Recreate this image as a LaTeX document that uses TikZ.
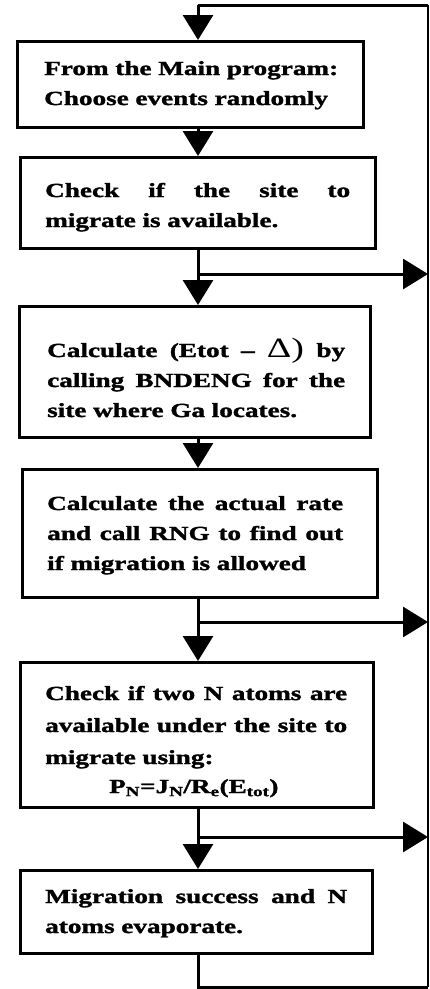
\documentclass[tikz,border=0pt]{standalone}
\usepackage{fontspec}
\newfontfamily\boxfont{Liberation Serif}[FakeStretch=1.36, BoldFeatures={FakeStretch=1.36, FakeBold=1.6}]
\usetikzlibrary{arrows.meta}
\newcommand{\jl}[2]{\makebox[#1][s]{\spaceskip=0pt\xspaceskip=0pt\relax #2}}
\begin{document}
\begin{tikzpicture}[x=1pt,y=-1pt,
 box/.style={draw, line width=3pt, rectangle, inner sep=0pt, anchor=north west},
 txt/.style={anchor=base west, inner sep=0pt, text width=320pt,
   font=\boxfont\bfseries\fontsize{20}{30}\selectfont},
 conn/.style={line width=3pt},
 thinline/.style={line width=2pt},
 arr/.style={line width=3pt, -{Triangle[width=30pt,length=25pt]}},
]
\useasboundingbox (0,0) rectangle (430,989);
% boxes
\node[box, minimum width=346pt, minimum height=86pt] (b1) at (16,40) {};
\node[box, minimum width=355pt, minimum height=91pt] (b2) at (19,156) {};
\node[box, minimum width=351pt, minimum height=131pt] (b3) at (18,305) {};
\node[box, minimum width=355pt, minimum height=128pt] (b4) at (21,468) {};
\node[box, minimum width=353pt, minimum height=145pt] (b5) at (19,661) {};
\node[box, minimum width=352pt, minimum height=83pt] (b6) at (19,869) {};
% texts
\node[txt] (t1) at (44,75) {From the Main program:\\Choose events randomly};
\node[txt] (t2) at (45,197) {\jl{305pt}{Check if the site to}\\migrate is available.};
\node[txt] (t3) at (47,357) {\jl{298pt}{Calculate (Etot – {\mdseries\fontsize{28}{30}\selectfont Δ)} by}\\\jl{298pt}{calling BNDENG for the}\\site where Ga locates.};
\node[txt] (t4) at (47,510) {\jl{296pt}{Calculate the actual rate}\\\jl{296pt}{and call RNG to find out}\\if migration is allowed};
\node[txt] (t5) at (45,700) {\jl{302pt}{Check if two N atoms are}\\[2pt]\jl{302pt}{available under the site to}\\[2pt]migrate using:\\[-1pt]\hspace*{64pt}P\textsubscript{N}=J\textsubscript{N}/R\textsubscript{e}(E\textsubscript{tot})};
\node[txt] (t6) at (45,903) {\jl{302pt}{Migration success and N}\\atoms evaporate.};
% coordinates
\coordinate (ax) at (198,0);
\coordinate (tl) at (198,5);
\coordinate (tr) at (428,5);
\coordinate (bl) at (198,987);
\coordinate (br) at (428,987);
\coordinate (j1) at (198,274);
\coordinate (e1) at (428,274);
\coordinate (j2) at (198,622);
\coordinate (e2) at (428,622);
\coordinate (j3) at (198,837);
\coordinate (e3) at (428,837);
% loop back
\draw[conn] (b6.south -| ax) -- (bl) -- (br);
\draw[thinline] (br) -- (tr);
\draw[conn] (tr) -- (tl);
\draw[arr] (tl) -- (b1.north -| ax);
% main flow
\draw[arr] (b1.south -| ax) -- (b2.north -| ax);
\draw[arr] (b2.south -| ax) -- (b3.north -| ax);
\draw[arr] (b3.south -| ax) -- (b4.north -| ax);
\draw[arr] (b4.south -| ax) -- (b5.north -| ax);
\draw[arr] (b5.south -| ax) -- (b6.north -| ax);
% exits
\draw[arr] (j1) -- (e1);
\draw[arr] (j2) -- (e2);
\draw[arr] (j3) -- (e3);
\end{tikzpicture}
\end{document}
